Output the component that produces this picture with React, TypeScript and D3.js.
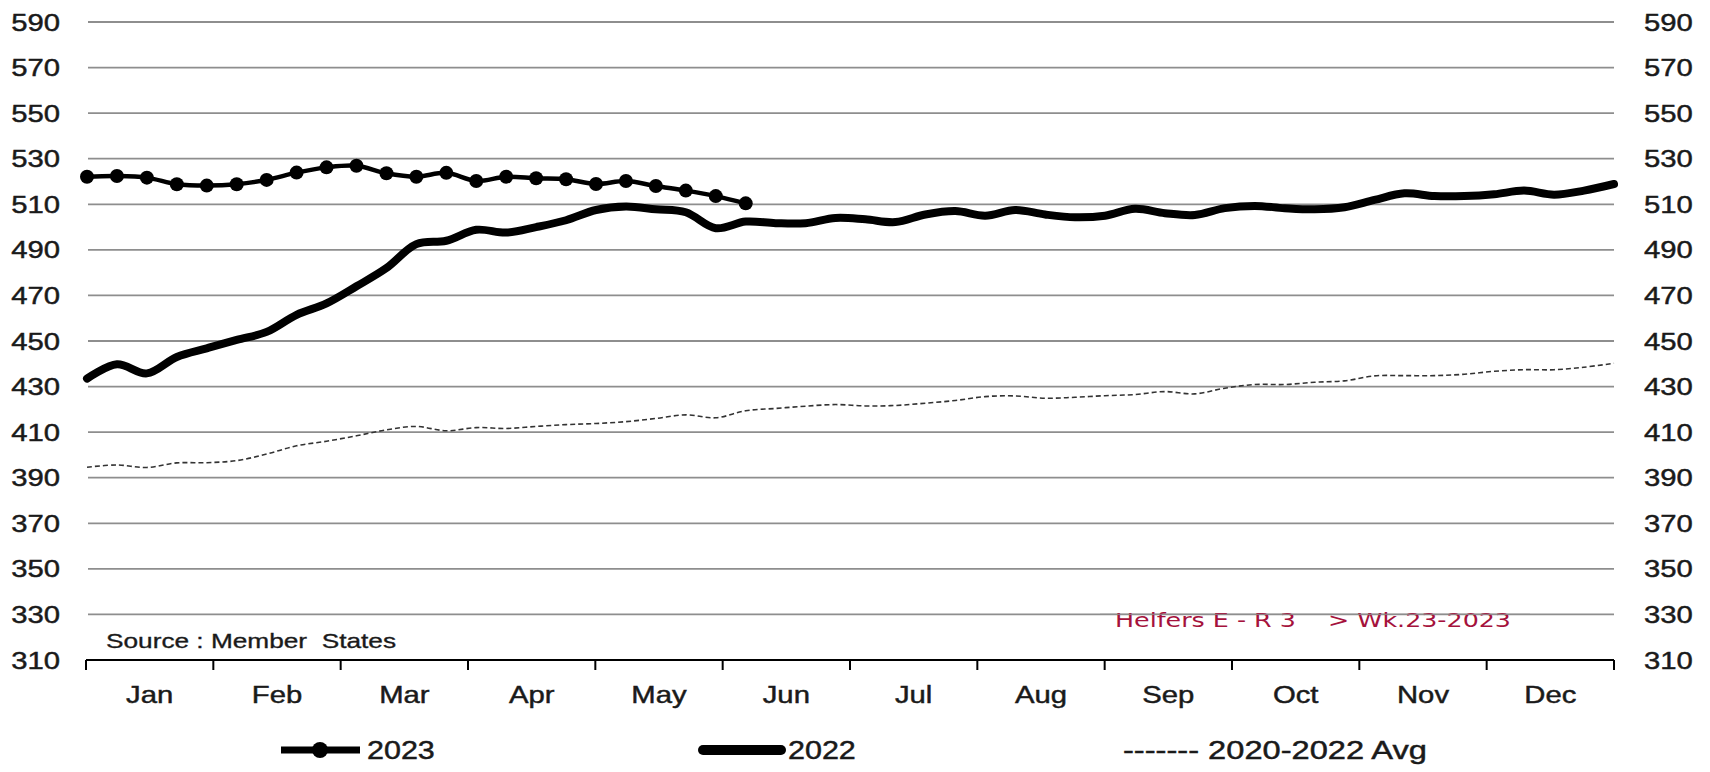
import React from 'react';
import * as d3 from 'd3';

const months = ['Jan', 'Feb', 'Mar', 'Apr', 'May', 'Jun', 'Jul', 'Aug', 'Sep', 'Oct', 'Nov', 'Dec'];
const yTicks = [310, 330, 350, 370, 390, 410, 430, 450, 470, 490, 510, 530, 550, 570, 590];

const values2023 = [
  522.1, 522.4, 521.7, 518.8, 518.2, 518.8, 520.7, 523.9, 526.2, 526.9, 523.6, 522.1,
  523.8, 520.2, 522.1, 521.4, 521.0, 518.9, 520.2, 518.0, 516.0, 513.6, 510.4,
];

const values2022 = [
  433.5, 439.8, 435.8, 443.0, 446.8, 450.5, 454.0, 461.5, 466.5, 474.0, 482.0, 492.5,
  494.0, 498.8, 497.6, 500.0, 503.0, 507.5, 509.0, 507.8, 506.5, 499.5, 502.4, 501.7,
  501.7, 504.0, 503.4, 502.2, 505.5, 507.0, 505.0, 507.5, 505.5, 504.3, 505.0, 508.0,
  506.1, 505.3, 508.3, 509.3, 508.3, 507.8, 508.7, 511.9, 514.8, 513.6, 513.6, 514.4,
  516.0, 514.2, 516.0, 518.9,
];

const valuesAvg = [
  394.6, 395.6, 394.5, 396.5, 396.6, 397.5, 400.4, 404.0, 406.0, 408.4, 411.0, 412.5,
  410.6, 412.0, 411.6, 412.5, 413.3, 413.8, 414.6, 416.0, 417.6, 416.3, 419.4, 420.4,
  421.4, 422.1, 421.5, 421.7, 422.7, 423.9, 425.6, 425.9, 424.9, 425.3, 426.0, 426.5,
  427.8, 426.8, 429.3, 430.9, 430.9, 431.9, 432.5, 434.7, 434.8, 434.8, 435.4, 436.7,
  437.4, 437.4, 438.5, 440.2,
];

const seriesNames = ['2023', '2022', '------- 2020-2022 Avg'];
const sourceText = 'Source : Member  States';
const noteText = 'Helfers E - R 3    > Wk.23-2023';

const FONT = "'Liberation Sans', Arial, sans-serif";
const SX = 1.22;

export default function App() {
  const W = 1710;
  const H = 772;
  const left = 86;
  const right = 1614;
  const top = 22;
  const bottom = 660;

  const x = d3.scaleLinear().domain([1, 52]).range([left + 1, right]);
  const xm = d3.scaleBand<string>().domain(months).range([left, right]);
  const y = d3.scaleLinear().domain([310, 590]).range([bottom, top]);

  const mk = d3
    .line<number>()
    .x((_, i) => x(i + 1))
    .y((d) => y(d))
    .curve(d3.curveCatmullRom.alpha(0.5));

  const monthEdges = d3.range(0, 13).map((i) => left + i * xm.step());

  const txt = (
    key: string,
    px: number,
    py: number,
    s: string,
    anchor: 'start' | 'middle' | 'end',
    size: number,
    fill = '#1a1a1a'
  ) => (
    <text
      key={key}
      transform={`translate(${px},${py}) scale(${SX},1)`}
      textAnchor={anchor}
      fontFamily={FONT}
      fontSize={size}
      fill={fill}
      stroke={fill}
      strokeWidth={0.45}
    >
      {s}
    </text>
  );

  return (
    <svg
      width={W}
      height={H}
      style={{ position: 'absolute', left: 0, top: 0, background: '#fff' }}
    >
      <rect x={0} y={0} width={W} height={H} fill="#fff" />
      {/* gridlines */}
      {yTicks
        .filter((t) => t !== 310)
        .map((t) => (
          <line
            key={'g' + t}
            x1={left + 2}
            x2={right}
            y1={y(t)}
            y2={y(t)}
            stroke="#8e8e8e"
            strokeWidth={1.8}
          />
        ))}

      {/* note text */}
      <text
        x={1115}
        y={627}
        fontFamily="'DejaVu Sans', Verdana, sans-serif"
        fontSize={19}
        fill="#a5123c"
        textLength={396}
        lengthAdjust="spacingAndGlyphs"
        style={{ whiteSpace: 'pre' }}
      >
        {noteText}
      </text>
      <line x1={1100} x2={1530} y1={y(330)} y2={y(330)} stroke="#8e8e8e" strokeWidth={1.2} opacity={0.8} />

      {/* source text */}
      <text
        x={106}
        y={648}
        fontFamily={FONT}
        fontSize={21}
        fill="#1a1a1a"
        stroke="#1a1a1a"
        strokeWidth={0.35}
        textLength={290}
        lengthAdjust="spacingAndGlyphs"
        style={{ whiteSpace: 'pre' }}
      >
        {sourceText}
      </text>

      {/* avg */}
      <path d={mk(valuesAvg) || ''} fill="none" stroke="#333" strokeWidth={1.6} strokeDasharray="5,3" />
      {/* 2022 */}
      <path
        d={mk(values2022) || ''}
        fill="none"
        stroke="#000"
        strokeWidth={8}
        strokeLinejoin="round"
        strokeLinecap="round"
      />
      {/* 2023 */}
      <path
        d={mk(values2023) || ''}
        fill="none"
        stroke="#000"
        strokeWidth={4.5}
        strokeLinejoin="round"
      />
      {values2023.map((v, i) => (
        <circle key={'d' + i} cx={x(i + 1)} cy={y(v)} r={7} fill="#000" />
      ))}

      {/* x axis */}
      <line x1={left} x2={right} y1={bottom} y2={bottom} stroke="#000" strokeWidth={2} />
      {monthEdges.map((ex, i) => (
        <line key={'t' + i} x1={ex} x2={ex} y1={bottom} y2={bottom + 10} stroke="#000" strokeWidth={2} />
      ))}
      {months.map((m) => txt('m' + m, (xm(m) as number) + xm.bandwidth() / 2, 703, m, 'middle', 24))}

      {/* y labels */}
      {yTicks.map((t) => txt('yl' + t, 60, y(t) + 8.5, String(t), 'end', 24))}
      {yTicks.map((t) => txt('yr' + t, 1644, y(t) + 8.5, String(t), 'start', 24))}

      {/* legend */}
      <line x1={281} x2={360} y1={750} y2={750} stroke="#000" strokeWidth={7} />
      <circle cx={320} cy={750} r={8} fill="#000" />
      {txt('l1', 367, 759, seriesNames[0], 'start', 25)}
      <line x1={703} x2={781} y1={750} y2={750} stroke="#000" strokeWidth={10} strokeLinecap="round" />
      {txt('l2', 788, 759, seriesNames[1], 'start', 25)}
      <text
        x={1123}
        y={759}
        fontFamily={FONT}
        fontSize={25}
        fill="#1a1a1a"
        stroke="#1a1a1a"
        strokeWidth={0.45}
        textLength={304}
        lengthAdjust="spacingAndGlyphs"
      >
        {seriesNames[2]}
      </text>
    </svg>
  );
}
